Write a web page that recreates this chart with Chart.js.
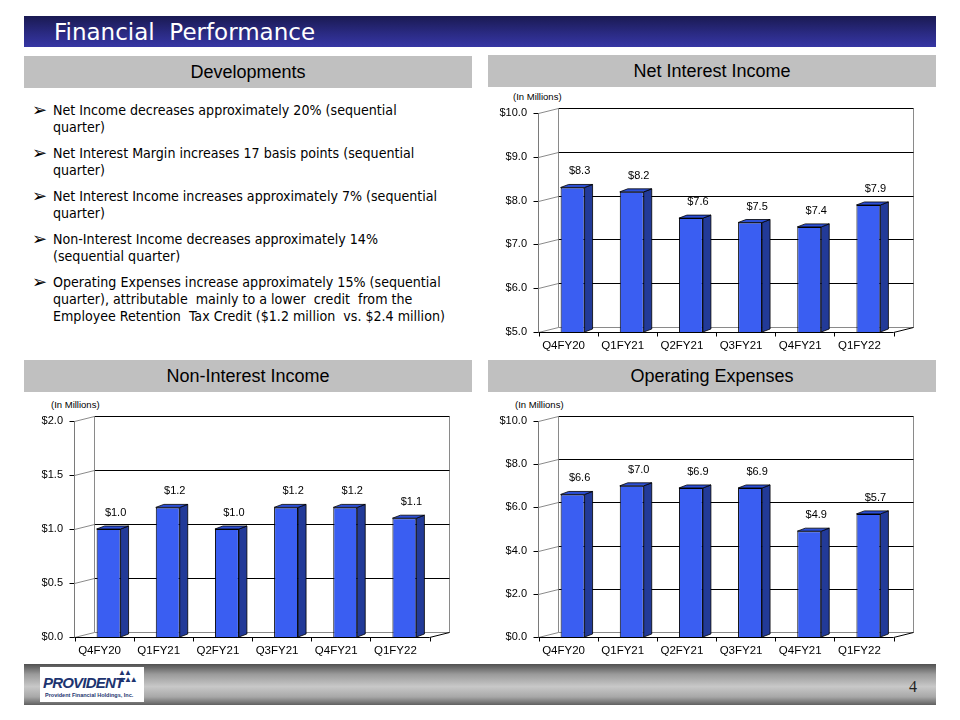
<!DOCTYPE html>
<html>
<head>
<meta charset="utf-8">
<script src="https://cdn.jsdelivr.net/npm/chart.js@4.4.1/dist/chart.umd.min.js"></script>
<style>
  body { margin: 0; width: 960px; height: 720px; overflow: hidden; background: #fff; position: relative; font-family: "Liberation Sans", Arial, sans-serif; }
  .titlebar { position: absolute; left: 24px; top: 16px; width: 912px; height: 31px;
    background: linear-gradient(to bottom, #1a1a52 0%, #2a2a82 55%, #3636a4 100%); }
  .titlebar span { position: absolute; left: 30px; top: 1px; color: #fff; font-family: "DejaVu Sans", sans-serif; font-size: 23px; line-height: 30px; }
  .head { position: absolute; width: 448px; height: 32px; background: #c0c0c0; text-align: center; font-size: 18px; line-height: 33px; color: #000; }
  .bullets { position: absolute; left: 33px; top: 102px; font-family: "DejaVu Sans Condensed", "DejaVu Sans", sans-serif; font-size: 14.1px; line-height: 17px; color: #000; white-space: nowrap; }
  .bullets div { position: relative; padding-left: 20px; margin-bottom: 9px; }
  .bullets div::before { content: "\27A2"; position: absolute; left: -1px; top: -1px; font-family: "DejaVu Sans", sans-serif; font-size: 18px; line-height: 18px; }
  .unit { position: absolute; font-size: 9.5px; color: #000; }
  canvas { position: absolute; }
  .footer { position: absolute; left: 24px; top: 664px; width: 912px; height: 41px;
    background: linear-gradient(to bottom, #505050 0%, #9a9a9a 25%, #c8c8c8 55%, #a8a8a8 80%, #606060 100%); }
  .logo { position: absolute; left: 16px; top: 3px; width: 104px; height: 35px; background: #fff; }
  .logo .big { position: absolute; left: 3px; top: 7px; font-family: "Liberation Sans Narrow", "Liberation Sans", Arial, sans-serif; font-weight: bold; font-style: italic; font-size: 15px; color: #1d3470; letter-spacing: -0.8px; }
  .logo .tri { position: absolute; left: 78px; top: 2px; font-size: 8px; color: #1d3470; letter-spacing: -2px; line-height: 7px; }
  .logo .small { position: absolute; left: 5px; top: 25px; font-size: 5.5px; color: #1d3470; font-weight: bold; }
  .pageno { position: absolute; left: 885px; top: 14px; font-family: "Liberation Serif", serif; font-size: 16px; color: #222; }
</style>
</head>
<body>
<div class="titlebar"><span>Financial&nbsp; Performance</span></div>

<div class="head" style="left:24px; top:56px;">Developments</div>
<div class="head" style="left:488px; top:55px;">Net Interest Income</div>
<div class="head" style="left:24px; top:360px;">Non-Interest Income</div>
<div class="head" style="left:488px; top:360px;">Operating Expenses</div>

<div class="bullets">
  <div>Net Income decreases approximately 20% (sequential<br>quarter)</div>
  <div>Net Interest Margin increases 17 basis points (sequential<br>quarter)</div>
  <div>Net Interest Income increases approximately 7% (sequential<br>quarter)</div>
  <div>Non-Interest Income decreases approximately 14%<br>(sequential quarter)</div>
  <div>Operating Expenses increase approximately 15% (sequential<br>quarter), attributable&nbsp; mainly to a lower&nbsp; credit&nbsp; from the<br>Employee Retention&nbsp; Tax Credit ($1.2 million&nbsp; vs. $2.4 million)</div>
</div>

<span class="unit" style="left:513px; top:91px;">(In Millions)</span>
<span class="unit" style="left:51px; top:399px;">(In Millions)</span>
<span class="unit" style="left:515px; top:399px;">(In Millions)</span>

<canvas id="niiChart" width="448" height="270" style="left:488px; top:88px;"></canvas>
<canvas id="nonIntChart" width="448" height="270" style="left:24px; top:396px;"></canvas>
<canvas id="opexChart" width="448" height="270" style="left:488px; top:396px;"></canvas>

<div class="footer">
  <div class="logo">
    <span class="big">PROVIDENT</span>
    <span class="tri">&#9650;&#9650;<br>&#9650;&#9650;&#9650;</span>
    <span class="small">Provident Financial Holdings, Inc.</span>
  </div>
  <span class="pageno">4</span>
</div>

<script>
// quarters shown on every chart
const quarters = ["Q4FY20", "Q1FY21", "Q2FY21", "Q3FY21", "Q4FY21", "Q1FY22"];

// values in millions of dollars
const netInterestIncome = [8.3, 8.2, 7.6, 7.5, 7.4, 7.9];
const nonInterestIncome = [1.0, 1.2, 1.0, 1.2, 1.2, 1.1];
const operatingExpenses = [6.6, 7.0, 6.9, 6.9, 4.9, 5.7];

// y axis ranges: min, max, step
const niiAxis = [5, 10, 1];
const nonIntAxis = [0, 2, 0.5];
const opexAxis = [0, 10, 2];

// 3d look of the old excel charts
const DX = 20, DY = 5, SHIFT = 5, SIDE = 8, RISE = 3;
const FRONT = "#3a5ef2", SIDECOL = "#223a98", TOPCOL = "#2c4fd6";

function money(v) {
  return "$" + Number(v).toFixed(1);
}

const depthPlugin = {
  id: "depth",
  beforeDatasetsDraw(chart) {
    const ctx = chart.ctx, a = chart.chartArea, ys = chart.scales.y;
    const fx0 = Math.round(a.left - SHIFT) + 0.5, fx1 = Math.round(a.right - SHIFT) + 0.5;
    const bx0 = fx0 + DX, bx1 = fx1 + DX;
    const bottom = Math.round(a.bottom) + 0.5, top = Math.round(a.top) + 0.5;
    const n = chart.data.labels.length, cw = (fx1 - fx0) / n;
    const seg = (x1, y1, x2, y2, c) => {
      ctx.strokeStyle = c;
      ctx.beginPath();
      ctx.moveTo(x1, y1);
      ctx.lineTo(x2, y2);
      ctx.stroke();
    };
    ctx.save();
    ctx.lineWidth = 1;
    // back wall
    seg(bx0, top - DY, bx0, bottom - DY, "#8a8a8a");
    seg(bx1, top - DY, bx1, bottom - DY, "#8a8a8a");
    seg(bx0, bottom - DY, bx1, bottom - DY, "#8a8a8a");
    ys.ticks.forEach((t) => {
      const py = Math.round(ys.getPixelForValue(t.value)) + 0.5;
      if (t.value > ys.min) seg(bx0, py - DY, bx1, py - DY, "#000");
      seg(fx0, py, bx0, py - DY, "#8a8a8a");
      seg(fx0 - 5, py, fx0, py, "#000");
    });
    // front axis + floor
    seg(fx0, top, fx0, bottom, "#7a7a7a");
    seg(fx0, bottom, fx1, bottom, "#000");
    seg(fx1, bottom, bx1, bottom - DY, "#000");
    for (let i = 0; i <= n; i++) {
      const px = Math.round(fx0 + i * cw) + 0.5;
      seg(px, bottom, px, bottom + 4, "#000");
    }
    ctx.restore();
  },
  afterDatasetsDraw(chart) {
    const ctx = chart.ctx, a = chart.chartArea;
    const meta = chart.getDatasetMeta(0);
    const values = chart.data.datasets[0].data;
    ctx.save();
    ctx.lineWidth = 0.8;
    ctx.strokeStyle = "#000";
    meta.data.forEach((bar, i) => {
      const p = bar.getProps(["x", "y", "base", "width"], true);
      const l = p.x - p.width / 2, r = p.x + p.width / 2;
      const base = Math.min(p.base, a.bottom);
      // side face
      ctx.fillStyle = SIDECOL;
      ctx.beginPath();
      ctx.moveTo(r, p.y);
      ctx.lineTo(r + SIDE, p.y - RISE);
      ctx.lineTo(r + SIDE, base - RISE);
      ctx.lineTo(r, base);
      ctx.closePath();
      ctx.fill();
      ctx.stroke();
      // top face
      ctx.fillStyle = TOPCOL;
      ctx.beginPath();
      ctx.moveTo(l, p.y);
      ctx.lineTo(l + SIDE, p.y - RISE);
      ctx.lineTo(r + SIDE, p.y - RISE);
      ctx.lineTo(r, p.y);
      ctx.closePath();
      ctx.fill();
      ctx.stroke();
      // value label
      ctx.fillStyle = "#000";
      ctx.font = '11px "Liberation Sans", Arial, sans-serif';
      ctx.textAlign = "center";
      ctx.textBaseline = "middle";
      ctx.fillText(money(values[i]), p.x + 7, p.y - 16);
    });
    ctx.restore();
  },
};

function makeChart(id, values, axis, xHeight) {
  const ctx = document.getElementById(id).getContext("2d");
  return new Chart(ctx, {
    type: "bar",
    data: {
      labels: quarters,
      datasets: [
        {
          data: values,
          backgroundColor: FRONT,
          borderColor: "#000",
          borderWidth: 1,
          categoryPercentage: 0.45,
          barPercentage: 0.9,
        },
      ],
    },
    options: {
      responsive: false,
      animation: false,
      layout: { padding: { left: 0, right: 38, top: 25, bottom: 0 } },
      plugins: { legend: { display: false }, tooltip: { enabled: false } },
      scales: {
        x: {
          grid: { display: false },
          border: { display: false },
          ticks: {
            color: "#000",
            font: { family: '"Liberation Sans", Arial, sans-serif', size: 11.5 },
            labelOffset: -9,
            padding: -1,
            maxRotation: 0,
            autoSkip: false,
          },
          afterFit: (s) => { s.height = xHeight; },
        },
        y: {
          min: axis[0],
          max: axis[1],
          grid: { display: false },
          border: { display: false },
          ticks: {
            stepSize: axis[2],
            color: "#000",
            padding: 8,
            font: { family: '"Liberation Sans", Arial, sans-serif', size: 11 },
            callback: (v) => money(v),
          },
          afterFit: (s) => { s.width = 55; },
        },
      },
    },
    plugins: [depthPlugin],
  });
}

makeChart("niiChart", netInterestIncome, niiAxis, 26);
makeChart("nonIntChart", nonInterestIncome, nonIntAxis, 29);
makeChart("opexChart", operatingExpenses, opexAxis, 29);
</script>
</body>
</html>
